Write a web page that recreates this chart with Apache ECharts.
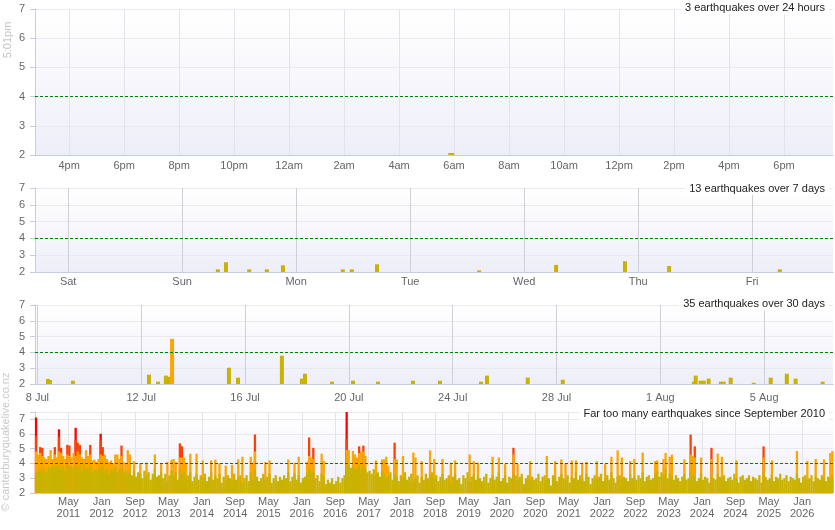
<!DOCTYPE html>
<html><head><meta charset="utf-8">
<script src="https://cdn.jsdelivr.net/npm/echarts@6/dist/echarts.min.js"></script>
<style>html,body{margin:0;padding:0;background:#fff}#c{width:835px;height:530px}</style>
</head><body><div id="c"></div>
<script>
// ---------- Panel 1: last 24 hours (x = hours relative to midnight) ----------
const dayTickHours = [-8, -6, -4, -2, 0, 2, 4, 6, 8, 10, 12, 14, 16, 18];
const dayTickLabels = ['4pm', '6pm', '8pm', '10pm', '12am', '2am', '4am', '6am', '8am', '10am', '12pm', '2pm', '4pm', '6pm'];
const dayQuakes = [[5.9, 2.07]];

// ---------- Panel 2: last 7 days (x = hours since Fri 5:01pm) ----------
const weekTickHours = [6.98, 30.98, 54.98, 78.98, 102.98, 126.98, 150.98];
const weekTickLabels = ['Sat', 'Sun', 'Mon', 'Tue', 'Wed', 'Thu', 'Fri'];
const weekQuakes = [
  [38.5, 2.16], [40.2, 2.58], [45.1, 2.16], [48.8, 2.16], [52.2, 2.4], [64.8, 2.16], [66.7, 2.16],
  [72.0, 2.46], [93.5, 2.1], [109.7, 2.42], [124.2, 2.64], [133.5, 2.36], [156.8, 2.16]
];

// ---------- Panel 3: last 30 days (x = days since 8 Jul) ----------
const monthTickDays = [0, 4, 8, 12, 16, 20, 24, 28];
const monthTickLabels = ['8 Jul', '12 Jul', '16 Jul', '20 Jul', '24 Jul', '28 Jul', '1 Aug', '5 Aug'];
const monthQuakes = [
  [0.41, 2.32], [0.49, 2.25], [1.37, 2.21], [4.30, 2.59], [4.65, 2.15], [4.95, 2.53], [5.07, 2.46],
  [5.19, 4.86], [7.38, 3.03], [7.73, 2.4], [9.42, 3.79], [10.19, 2.34], [10.31, 2.65], [11.35, 2.15],
  [12.16, 2.21], [13.12, 2.15], [14.47, 2.21], [15.51, 2.21], [17.09, 2.15], [17.32, 2.53], [18.89, 2.4],
  [20.24, 2.27], [25.29, 2.15], [25.36, 2.53], [25.55, 2.21], [25.67, 2.21], [25.86, 2.34], [26.33, 2.15],
  [26.44, 2.15], [26.71, 2.4], [27.60, 2.08], [28.25, 2.4], [28.87, 2.65], [29.21, 2.34], [30.25, 2.15]
];

// ---------- Panel 4: since September 2010 (x = months since Sep 2010, half-month bins) ----------
const allTickMonths = [8, 16, 24, 32, 40, 48, 56, 64, 72, 80, 88, 96, 104, 112, 120, 128, 136, 144, 152, 160, 168, 176, 184];
const allTickLabels = ['May\n2011', 'Jan\n2012', 'Sep\n2012', 'May\n2013', 'Jan\n2014', 'Sep\n2014', 'May\n2015', 'Jan\n2016',
  'Sep\n2016', 'May\n2017', 'Jan\n2018', 'Sep\n2018', 'May\n2019', 'Jan\n2020', 'Sep\n2020', 'May\n2021', 'Jan\n2022',
  'Sep\n2022', 'May\n2023', 'Jan\n2024', 'Sep\n2024', 'May\n2025', 'Jan\n2026'];
// largest magnitude-6+ quake per bin [month, magnitude]
const allM6 = [[0.25, 7.1], [5.75, 6.3], [9.75, 6.4], [15.75, 6.0], [74.75, 7.8]];
// largest magnitude-5 quake per bin
const allM5 = [[0.25, 5.85], [1.25, 5.1], [1.75, 5.05], [4.75, 5.1], [5.75, 5.8], [6.25, 5.05], [7.75, 5.25], [8.25, 5.2],
  [9.75, 5.6], [10.25, 5.4], [10.75, 5.25], [13.25, 5.25], [15.75, 5.6], [16.25, 5.1], [20.75, 5.2], [34.75, 5.35],
  [35.25, 5.15], [52.75, 5.95], [65.75, 5.75], [66.75, 5.05], [74.75, 5.65], [77.75, 5.15], [78.75, 5.2], [86.25, 5.4],
  [114.75, 5.05], [157.25, 5.95], [158.25, 5.15], [162.25, 5.05], [174.75, 5.15]];
// largest magnitude-4 quake per bin
const allM4 = [[0.25, 4.8], [0.75, 4.6], [1.25, 4.7], [1.75, 4.5], [2.25, 4.4], [2.75, 4.3], [3.25, 4.5], [3.75, 4.9],
  [4.25, 4.3], [4.75, 4.6], [5.25, 4.4], [5.75, 4.8], [6.25, 4.7], [6.75, 4.5], [7.25, 4.3], [7.75, 4.6], [8.25, 4.5],
  [8.75, 4.4], [9.25, 4.7], [9.75, 4.5], [10.25, 4.8], [10.75, 4.6], [11.25, 4.4], [11.75, 4.3], [12.25, 4.9],
  [12.75, 4.5], [13.25, 4.6], [13.75, 4.2], [14.25, 4.25], [14.75, 4.1], [15.25, 4.3], [15.75, 4.6], [16.25, 4.5],
  [16.75, 4.6], [17.25, 4.3], [17.75, 4.1], [18.25, 4.2], [18.75, 4.0], [19.25, 4.6], [19.75, 4.6], [20.25, 4.3],
  [20.75, 4.5], [21.25, 4.1], [21.75, 4.0], [22.25, 4.9], [22.75, 4.6], [23.75, 4.15], [25.25, 4.0], [26.75, 4.05],
  [28.75, 4.6], [30.25, 4.0], [31.75, 4.1], [32.75, 4.25], [33.25, 4.3], [33.75, 4.1], [34.75, 4.4], [35.25, 4.4],
  [35.75, 4.4], [36.25, 4.0], [37.25, 4.65], [38.75, 4.65], [40.25, 4.2], [42.25, 4.2], [43.25, 4.25], [44.25, 4.0],
  [45.75, 3.85], [47.25, 3.9], [48.75, 4.27], [49.75, 4.45], [51.75, 4.45], [52.25, 4.05], [52.75, 4.8], [55.25, 4.1],
  [56.25, 4.2], [60.75, 4.27], [62.25, 4.05], [63.25, 4.45], [65.25, 4.1], [65.75, 4.5], [66.25, 4.4], [66.75, 4.3],
  [68.75, 4.66], [69.25, 4.15], [74.75, 4.9], [75.25, 4.9], [76.25, 4.84], [76.75, 4.6], [77.25, 4.4], [77.75, 4.7],
  [78.25, 4.8], [78.75, 4.8], [79.25, 4.5], [81.75, 4.2], [83.25, 4.27], [83.75, 4.27], [84.25, 4.45], [84.75, 3.85],
  [86.25, 4.3], [86.75, 4.27], [88.25, 4.5], [90.75, 4.73], [91.25, 4.4], [92.75, 4.15], [94.75, 4.88], [95.75, 4.3],
  [97.75, 4.3], [99.75, 4.05], [100.75, 4.2], [104.25, 4.6], [105.25, 4.15], [106.25, 4.05], [109.75, 4.45],
  [111.25, 4.4], [112.75, 3.95], [114.75, 4.6], [115.75, 3.95], [118.75, 4.15], [122.75, 4.5], [124.75, 4.15],
  [126.25, 4.27], [127.25, 4.0], [128.75, 4.2], [129.75, 4.2], [131.25, 4.05], [132.25, 4.1], [134.75, 4.15],
  [136.75, 3.95], [138.25, 4.45], [139.75, 4.88], [140.75, 4.4], [142.75, 4.15], [143.75, 4.3], [145.75, 4.73],
  [148.75, 4.16], [149.25, 4.2], [150.75, 4.3], [151.25, 4.7], [152.25, 4.45], [152.75, 4.6], [155.75, 4.27],
  [157.25, 4.6], [157.75, 4.5], [158.25, 4.4], [159.75, 4.4], [162.25, 4.3], [163.75, 4.66], [164.75, 4.45],
  [168.25, 4.2], [174.75, 4.4], [176.75, 4.2], [182.75, 4.84], [185.25, 4.16], [187.25, 4.3], [189.25, 4.27],
  [190.75, 4.7], [191.25, 4.84]];
// largest quake below magnitude 4 in each half-month bin, from Sep 2010
const allM3 = [
  3.4, 3.5, 3.6, 3.5, 3.7, 3.4, 3.8, 3.6, 3.9, 3.7,
  3.8, 3.9, 3.6, 3.8, 3.5, 3.9, 3.7, 3.8, 3.6, 3.9,
  3.7, 3.8, 3.5, 3.9, 3.6, 3.7, 3.8, 3.4, 3.6, 3.5,
  3.7, 3.6, 3.8, 3.5, 3.7, 3.3, 3.6, 3.5, 3.8, 3.4,
  3.6, 3.7, 3.4, 3.5, 3.3, 3.6, 3.2, 3.5, 3.1, 3.4,
  3.3, 3.0, 3.5, 3.2, 3.4, 2.9, 3.3, 3.6, 3.1, 3.2,
  3.4, 3.0, 3.3, 2.8, 3.2, 3.5, 3.1, 3.4, 2.9, 3.6,
  3.3, 3.5, 3.0, 3.2, 3.4, 2.8, 3.1, 3.3, 2.9, 3.2,
  3.0, 3.3, 2.8, 3.1, 3.4, 2.9, 3.2, 3.0, 3.3, 2.7,
  3.1, 2.9, 3.2, 3.0, 2.8, 3.3, 2.9, 3.1, 3.2, 2.7,
  3.0, 3.2, 2.8, 3.4, 2.9, 3.6, 3.1, 2.8, 3.0, 3.3,
  2.9, 3.1, 3.3, 2.7, 3.0, 3.2, 2.8, 3.1, 2.9, 3.2,
  3.0, 3.4, 2.8, 3.1, 3.3, 2.9, 3.2, 2.7, 3.0, 3.1,
  3.3, 3.7, 3.5, 3.4, 3.0, 3.2, 2.8, 3.3, 3.1, 2.6,
  2.9, 2.7, 3.0, 2.6, 2.8, 3.1, 2.7, 3.0, 3.2, 3.8,
  3.9, 3.7, 3.8, 3.6, 3.7, 3.9, 3.5, 3.8, 3.6, 3.4,
  3.5, 3.3, 3.6, 3.2, 3.4, 3.1, 3.5, 3.3, 3.0, 3.2,
  3.4, 2.9, 3.3, 3.1, 2.8, 3.2, 3.0, 3.4, 2.9, 3.1,
  3.3, 2.8, 3.0, 3.2, 2.7, 3.1, 2.9, 3.3, 3.0, 3.2,
  3.4, 3.0, 3.2, 2.8, 3.1, 3.3, 2.9, 3.0, 3.2, 2.7,
  3.1, 3.3, 2.9, 3.0, 2.6, 3.2, 3.0, 3.4, 2.8, 3.1,
  3.3, 2.9, 3.2, 3.0, 2.8, 3.1, 3.3, 2.7, 3.0, 3.2,
  2.9, 3.1, 3.4, 2.8, 3.0, 3.2, 2.7, 3.1, 3.0, 3.3,
  3.2, 2.9, 3.1, 3.3, 2.6, 3.0, 3.2, 2.8, 3.1, 2.9,
  3.0, 3.3, 2.8, 3.1, 3.2, 2.9, 3.0, 2.5, 3.2, 3.1,
  2.8, 3.1, 3.3, 3.0, 2.9, 3.2, 2.7, 3.1, 3.0, 3.4,
  2.9, 3.2, 3.0, 2.8, 3.3, 3.1, 2.6, 3.0, 3.2, 2.9,
  3.1, 3.3, 2.8, 3.0, 3.2, 2.9, 3.4, 3.0, 2.7, 3.1,
  3.2, 2.9, 3.1, 3.0, 2.8, 3.3, 3.0, 3.1, 2.9, 3.2,
  3.0, 3.4, 2.8, 3.1, 3.2, 2.9, 3.0, 3.3, 3.5, 3.1,
  3.4, 3.2, 3.6, 3.0, 3.3, 3.1, 2.9, 3.2, 3.0, 2.8,
  3.1, 3.3, 2.9, 3.0, 3.4, 3.2, 3.1, 2.8, 3.0, 3.3,
  2.9, 3.1, 3.0, 2.7, 3.2, 3.0, 2.9, 3.3, 3.1, 3.0,
  3.2, 2.8, 3.0, 3.1, 2.9, 3.3, 3.0, 2.7, 3.1, 3.2,
  2.9, 3.0, 3.2, 2.8, 3.1, 3.0, 2.9, 3.2, 2.7, 3.4,
  3.1, 2.9, 3.0, 3.2, 2.8, 3.1, 3.0, 3.3, 2.9, 3.0,
  3.2, 2.8, 3.1, 3.0, 2.9, 3.3, 3.0, 2.7, 3.1, 3.2,
  2.9, 3.0, 3.2, 2.8, 3.1, 3.0, 2.9, 3.2, 3.0, 2.8,
  3.1, 3.0, 3.2
];
const titles = ['3 earthquakes over 24 hours', '13 earthquakes over 7 days', '35 earthquakes over 30 days', 'Far too many earthquakes since September 2010'];

// ---------- styling / building ----------
const FONT = '"Liberation Sans", Arial, sans-serif';
const C6 = '#ff0000', C5 = '#ff4000', C4 = '#ffa500', C3 = '#c9b200';
const colorFor = m => m >= 6 ? C6 : m >= 5 ? C5 : m >= 4 ? C4 : C3;
const plotBg = {type: 'linear', x: 0, y: 0, x2: 0, y2: 1,
  colorStops: [{offset: 0, color: '#ffffff'}, {offset: 1, color: '#eeeef9'}]};
const gridBoxes = [
  {top: 9, height: 146}, {top: 188, height: 84}, {top: 305, height: 79}, {top: 412, height: 81}
];
const grid = gridBoxes.map(g => Object.assign({left: 35, right: 2, show: true, backgroundColor: plotBg, borderWidth: 0}, g));

function lookup(ticks, labels) {
  return v => { const k = ticks.findIndex(t => Math.abs(t - v) < 1e-6); return k < 0 ? '' : labels[k]; };
}
function xAxis(i, min, max, ticks, labels, splitColor, margin, lineHeight) {
  return {
    type: 'value', gridIndex: i, min: min, max: max,
    axisLine: {show: true, onZero: false, lineStyle: {color: '#c0d0e0', width: 1}},
    axisTick: {show: false, customValues: ticks},
    axisLabel: {customValues: ticks, formatter: lookup(ticks, labels), color: '#666', fontSize: 11,
      fontFamily: FONT, margin: margin, lineHeight: lineHeight || 13, showMinLabel: true, showMaxLabel: true},
    splitLine: {show: true, lineStyle: {color: splitColor, width: 1}}
  };
}
function yAxis(i, max) {
  return {
    type: 'value', gridIndex: i, min: 2, max: max, interval: 1,
    axisLine: {show: true, onZero: false, lineStyle: {color: '#c0d0e0'}},
    axisTick: {show: true, length: 5, lineStyle: {color: '#c0d0e0'}},
    axisLabel: {color: '#666', fontSize: 11, fontFamily: FONT, margin: 10,
      formatter: v => Number.isInteger(v) ? String(v) : ''},
    splitLine: {show: true, lineStyle: {color: '#e9e9ef'}}
  };
}
const threshold = {
  silent: true, symbol: ['none', 'none'], animation: false,
  label: {show: false},
  lineStyle: {color: '#008000', type: [3, 2], width: 1},
  data: [{yAxis: 4}]
};
function quakeBars(i, data, width) {
  return {
    type: 'bar', xAxisIndex: i, yAxisIndex: i, data: data, barWidth: width,
    itemStyle: {color: p => colorFor(p.value[1])},
    markLine: threshold
  };
}
const m3Data = allM3.map((v, i) => [i * 0.5 + 0.25, v]);
function allBars(data, color, extra) {
  return Object.assign({
    type: 'bar', xAxisIndex: 3, yAxisIndex: 3, data: data, barWidth: 2.3, barGap: '-100%',
    itemStyle: {color: color}
  }, extra || {});
}

const option = {
  animation: false,
  textStyle: {fontFamily: FONT},
  grid: grid,
  title: titles.map((t, i) => ({
    text: t, right: 6, top: [1.5, 182, 297.5, 407][i],
    backgroundColor: '#fff', padding: [1, 4, 1, 4],
    textStyle: {fontSize: 11, fontWeight: 'normal', color: '#222', fontFamily: FONT}
  })),
  xAxis: [
    xAxis(0, -9.24, 19.78, dayTickHours, dayTickLabels, '#e3e3ea', 4),
    xAxis(1, 0, 168, weekTickHours, weekTickLabels, '#cfcfd6', 3),
    xAxis(2, -0.09, 30.65, monthTickDays, monthTickLabels, '#cfcfd6', 7),
    xAxis(3, 0, 191.4, allTickMonths, allTickLabels, '#e3e3ea', 3, 12)
  ],
  yAxis: [yAxis(0, 7), yAxis(1, 7), yAxis(2, 7), yAxis(3, 7.47)],
  graphic: [
    {type: 'text', x: 8, y: 40, rotation: Math.PI / 2,
      style: {text: '5:01pm', fill: '#c4c4c4', fontSize: 11, fontFamily: FONT, align: 'center', verticalAlign: 'middle'}},
    {type: 'text', x: 6, y: 442, rotation: Math.PI / 2,
      style: {text: '© canterburyquakelive.co.nz', fill: '#c8c8c8', fontSize: 11, fontFamily: FONT, align: 'center', verticalAlign: 'middle'}}
  ],
  series: [
    quakeBars(0, dayQuakes, 6),
    quakeBars(1, weekQuakes, 4),
    quakeBars(2, monthQuakes, 4),
    allBars(allM6, C6),
    allBars(allM5, C5),
    allBars(allM4, C4),
    allBars(m3Data, C3, {markLine: threshold})
  ]
};
const chart = echarts.init(document.getElementById('c'), null, {renderer: 'canvas'});
chart.setOption(option);
</script>
</body></html>
